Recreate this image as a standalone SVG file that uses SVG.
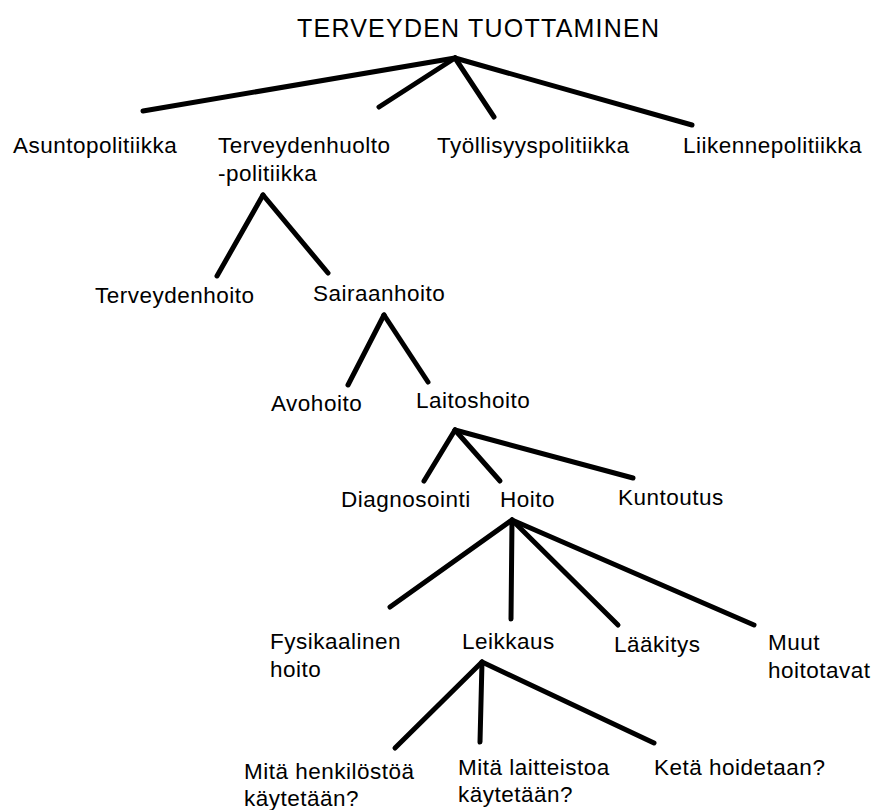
<svg xmlns="http://www.w3.org/2000/svg" width="873" height="810" viewBox="0 0 873 810">
<style>
text{font-family:"Liberation Sans",Arial,sans-serif;font-size:22.5px;letter-spacing:0.5px;fill:#000}
.t{font-size:25px;letter-spacing:0}
#edges line{stroke:#000;stroke-width:5;stroke-linecap:round}
</style>
<rect width="873" height="810" fill="#fff"/>
<g id="edges">
<line x1="455" y1="58" x2="143" y2="111"/>
<line x1="455" y1="58" x2="379" y2="107"/>
<line x1="455" y1="58" x2="494" y2="117"/>
<line x1="455" y1="58" x2="692" y2="125"/>
<line x1="263" y1="195" x2="217" y2="276"/>
<line x1="263" y1="195" x2="328" y2="273"/>
<line x1="384" y1="315" x2="348" y2="385"/>
<line x1="384" y1="315" x2="428" y2="382"/>
<line x1="455" y1="430" x2="424" y2="481"/>
<line x1="455" y1="430" x2="500" y2="481"/>
<line x1="455" y1="430" x2="633" y2="478"/>
<line x1="512" y1="520" x2="390" y2="607"/>
<line x1="512" y1="520" x2="511" y2="619"/>
<line x1="512" y1="520" x2="618" y2="625"/>
<line x1="512" y1="520" x2="754" y2="625"/>
<line x1="482" y1="662" x2="395" y2="748"/>
<line x1="482" y1="662" x2="480" y2="742"/>
<line x1="482" y1="662" x2="654" y2="743"/>
</g>
<g id="n-root"><text class="t" x="297" y="37" textLength="362">TERVEYDEN TUOTTAMINEN</text></g>
<g id="n-asunto"><text x="13" y="153">Asuntopolitiikka</text></g>
<g id="n-terveydenhuolto"><text x="218" y="153">Terveydenhuolto</text><text x="218" y="181">-politiikka</text></g>
<g id="n-tyollisyys"><text x="437" y="153">Työllisyyspolitiikka</text></g>
<g id="n-liikenne"><text x="683" y="153">Liikennepolitiikka</text></g>
<g id="n-terveydenhoito"><text x="95" y="303">Terveydenhoito</text></g>
<g id="n-sairaanhoito"><text x="313" y="301">Sairaanhoito</text></g>
<g id="n-avohoito"><text x="271" y="411">Avohoito</text></g>
<g id="n-laitoshoito"><text x="416" y="408">Laitoshoito</text></g>
<g id="n-diagnosointi"><text x="341" y="507">Diagnosointi</text></g>
<g id="n-hoito"><text x="500" y="507">Hoito</text></g>
<g id="n-kuntoutus"><text x="618" y="505">Kuntoutus</text></g>
<g id="n-fysikaalinen"><text x="270" y="649">Fysikaalinen</text><text x="270" y="677">hoito</text></g>
<g id="n-leikkaus"><text x="462" y="649">Leikkaus</text></g>
<g id="n-laakitys"><text x="614" y="652">Lääkitys</text></g>
<g id="n-muut"><text x="768" y="650">Muut</text><text x="768" y="678">hoitotavat</text></g>
<g id="n-henkilosto"><text x="244" y="779">Mitä henkilöstöä</text><text x="244" y="806">käytetään?</text></g>
<g id="n-laitteisto"><text x="458" y="775">Mitä laitteistoa</text><text x="458" y="802">käytetään?</text></g>
<g id="n-keta"><text x="654" y="775">Ketä hoidetaan?</text></g>
</svg>
